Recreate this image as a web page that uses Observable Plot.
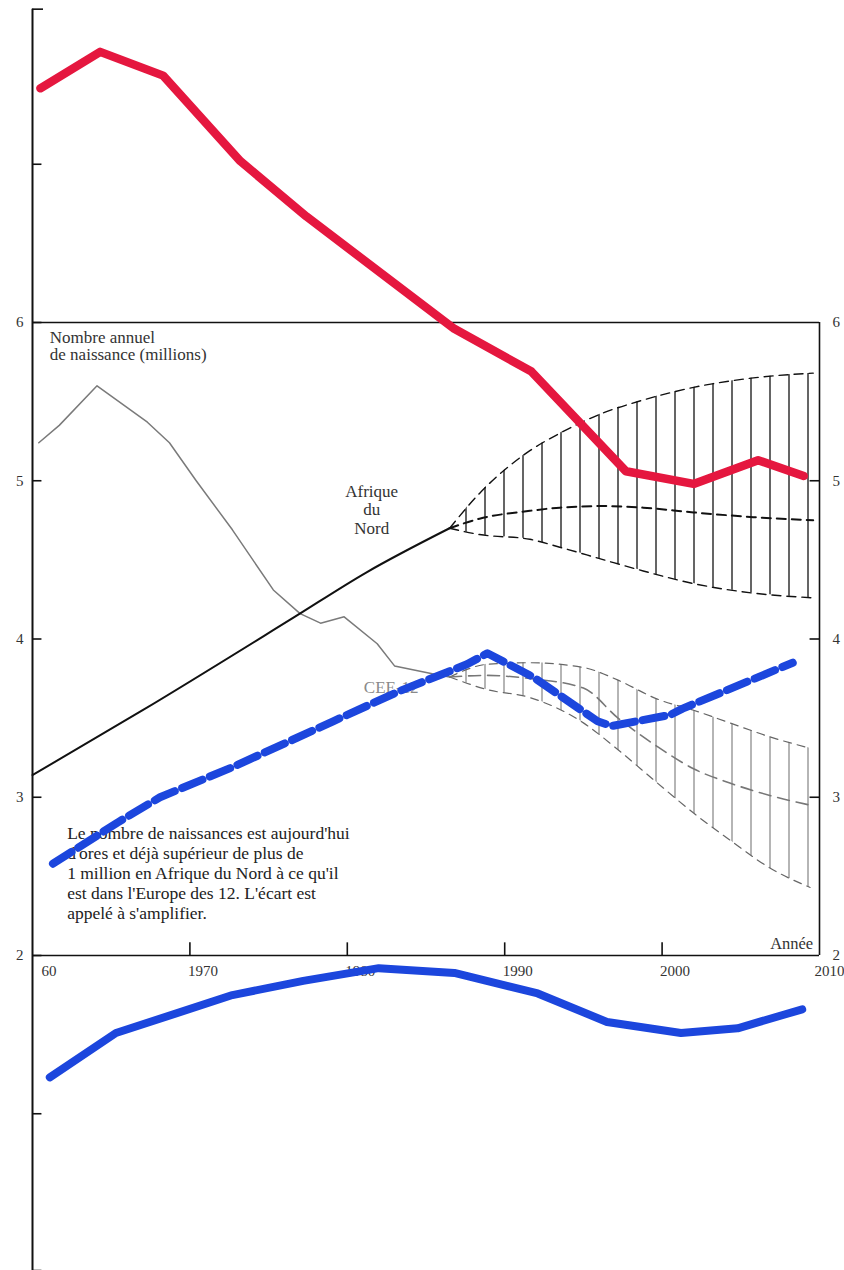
<!DOCTYPE html>
<html>
<head>
<meta charset="utf-8">
<script src="https://cdn.jsdelivr.net/npm/d3@7"></script>
<script src="https://cdn.jsdelivr.net/npm/@observablehq/plot@0.6"></script>
<style>
  html, body { margin: 0; padding: 0; background: #fff; }
  #chart svg { display: block; }
</style>
</head>
<body>
<div id="chart"></div>
<script>
// ---- Data ----
// Overlaid red series
const redYears  = [1960.5, 1964.3, 1968.3, 1973.2, 1977.4, 1986.8, 1991.7, 1997.7, 2002.0, 2006.1, 2009.0];
const redValues = [7.48, 7.71, 7.56, 7.02, 6.67, 5.96, 5.69, 5.06, 4.98, 5.13, 5.03];
// Overlaid blue solid series
const blueYears  = [1961.1, 1965.3, 1972.7, 1977.2, 1982.0, 1986.8, 1992.1, 1996.5, 2001.2, 2004.8, 2008.9];
const blueValues = [1.23, 1.51, 1.75, 1.84, 1.92, 1.89, 1.76, 1.58, 1.51, 1.54, 1.66];
// Overlaid blue dashed series
const dashYears  = [1961.3, 1965.4, 1968.1, 1972.7, 1979.1, 1983.3, 1987.6, 1988.9, 1991.8, 1995.9, 1996.8, 2000.5, 2001.3, 2008.3];
const dashValues = [2.58, 2.84, 3.00, 3.19, 3.48, 3.67, 3.84, 3.91, 3.76, 3.48, 3.45, 3.52, 3.56, 3.85];
// Afrique du Nord, observed
const afYears  = [1960, 1967.0, 1976.5, 1981.2, 1986.5];
const afValues = [3.14, 3.55, 4.13, 4.42, 4.70];
// Afrique du Nord, projection envelope
const afProjYears = [1986.5, 1988.4, 1991.6, 1993.5, 1996.3, 1998.8, 2002.0, 2005.8, 2009.6];
const afLow  = [4.70, 4.66, 4.63, 4.58, 4.50, 4.43, 4.35, 4.29, 4.26];
const afMid  = [4.70, 4.76, 4.81, 4.83, 4.84, 4.83, 4.80, 4.77, 4.75];
const afHigh = [4.70, 4.92, 5.19, 5.30, 5.43, 5.51, 5.59, 5.65, 5.68];
// CEE-12, observed
const ceeYears  = [1960.4, 1961.7, 1964.1, 1967.3, 1968.7, 1970.4, 1972.7, 1975.3, 1977.0, 1978.3, 1979.8, 1981.9, 1983.0, 1985.4, 1986.5];
const ceeValues = [5.24, 5.35, 5.60, 5.37, 5.24, 5.00, 4.69, 4.31, 4.16, 4.10, 4.14, 3.97, 3.83, 3.78, 3.76];
// CEE-12, projection envelope
const ceeProjYears = [1986.5, 1988.9, 1991.6, 1995.0, 1997.2, 1999.7, 2002.0, 2004.3, 2006.9, 2009.4];
const ceeLow  = [3.76, 3.68, 3.63, 3.47, 3.30, 3.09, 2.90, 2.73, 2.55, 2.43];
const ceeMid  = [3.76, 3.77, 3.75, 3.69, 3.50, 3.32, 3.18, 3.09, 3.01, 2.95];
const ceeHigh = [3.76, 3.84, 3.85, 3.82, 3.74, 3.62, 3.55, 3.47, 3.38, 3.31];

// Axes
const leftTicks   = [1, 2, 3, 4, 5, 6, 7];
const leftLabels  = [2, 3, 4, 5, 6];
const rightTicks  = [3, 4, 5];
const rightLabels = [2, 3, 4, 5, 6];
const xTicks      = [1970, 1980, 1990, 2000];
const xLabelYears = [1970, 1980, 1990, 2000];
const xLabelTexts = ["1970", "1980", "1990", "2000"];
const xFirstLabel = "60";
const xLastLabel  = "2010";

const titleText = "Nombre annuel\nde naissance (millions)";
const noteText = "Le nombre de naissances est aujourd'hui\nd'ores et déjà supérieur de plus de\n1 million en Afrique du Nord à ce qu'il\nest dans l'Europe des 12. L'écart est\nappelé à s'amplifier.";

// ---- Build tables ----
const zip = (xs, ys) => xs.map((x, i) => ({x, y: ys[i]}));
const red  = zip(redYears, redValues);
const blue = zip(blueYears, blueValues);
const dash = zip(dashYears, dashValues);
const af   = zip(afYears, afValues);
const cee  = zip(ceeYears, ceeValues);
const afEnv  = afProjYears.map((x, i) => ({x, low: afLow[i], mid: afMid[i], high: afHigh[i]}));
const ceeEnv = ceeProjYears.map((x, i) => ({x, low: ceeLow[i], mid: ceeMid[i], high: ceeHigh[i]}));

const serif = "'Liberation Serif', 'DejaVu Serif', serif";
const REDC = "#e5173f";
const BLUEC = "#1c46dd";

const svg = Plot.plot({
  width: 844,
  height: 1270,
  margin: 0,
  style: {background: "#fff", fontFamily: serif},
  x: {domain: [1960, 2010], range: [32, 819], axis: null},
  y: {domain: [0, 8], range: [1271.5, 5.5], axis: null},
  marks: [
    // projection hatching
    Plot.areaY(afEnv, {x: "x", y1: "low", y2: "high", fill: "url(#hatchAf)", curve: "monotone-x"}),
    Plot.areaY(ceeEnv, {x: "x", y1: "low", y2: "high", fill: "url(#hatchCee)", curve: "monotone-x"}),
    // envelopes
    Plot.lineY(afEnv, {x: "x", y: "high", stroke: "#111", strokeWidth: 1.4, strokeDasharray: "9,6", curve: "monotone-x"}),
    Plot.lineY(afEnv, {x: "x", y: "low", stroke: "#111", strokeWidth: 1.4, strokeDasharray: "9,6", curve: "monotone-x"}),
    Plot.lineY(afEnv, {x: "x", y: "mid", stroke: "#111", strokeWidth: 2, strokeDasharray: "9,6", curve: "monotone-x"}),
    Plot.lineY(ceeEnv, {x: "x", y: "high", stroke: "#666", strokeWidth: 1.2, strokeDasharray: "8,6", curve: "monotone-x"}),
    Plot.lineY(ceeEnv, {x: "x", y: "low", stroke: "#666", strokeWidth: 1.2, strokeDasharray: "8,6", curve: "monotone-x"}),
    Plot.lineY(ceeEnv, {x: "x", y: "mid", stroke: "#777", strokeWidth: 1.6, strokeDasharray: "12,7", curve: "monotone-x"}),
    // observed lines
    Plot.lineY(cee, {x: "x", y: "y", stroke: "#7a7a7a", strokeWidth: 1.5}),
    Plot.lineY(af, {x: "x", y: "y", stroke: "#111", strokeWidth: 2, curve: "monotone-x"}),
    // frame & axes
    Plot.ruleY([6, 2], {x1: 1960, x2: 2010, stroke: "#111", strokeWidth: 1.6}),
    Plot.ruleX([1960], {y1: 0, y2: 7.98, stroke: "#111", strokeWidth: 2}),
    Plot.ruleX([2010], {y1: 2, y2: 6, stroke: "#111", strokeWidth: 1.6}),
    Plot.ruleY(leftTicks, {x1: 1960, x2: 1960.6, stroke: "#111", strokeWidth: 1.6}),
    Plot.ruleY([7.98], {x1: 1960, x2: 1960.7, stroke: "#111", strokeWidth: 1.6}),
    Plot.ruleY([0.01], {x1: 1960, x2: 1960.6, stroke: "#111", strokeWidth: 1.4}),
    Plot.ruleY(rightTicks, {x1: 2009.4, x2: 2010, stroke: "#111", strokeWidth: 1.6}),
    Plot.ruleX(xTicks, {y1: 2, y2: 2.08, stroke: "#111", strokeWidth: 1.6}),
    Plot.text(leftLabels, {x: 1960, y: d => d, text: d => String(d), textAnchor: "end", dx: -9, fontSize: 15, fill: "#333"}),
    Plot.text(rightLabels, {x: 2010, y: d => d, text: d => String(d), textAnchor: "start", dx: 13, fontSize: 15, fill: "#333"}),
    Plot.text(xLabelYears, {x: d => d, y: 1.94, text: (d, i) => xLabelTexts[i], textAnchor: "start", lineAnchor: "top", dx: -2, fontSize: 15, fill: "#333"}),
    Plot.text([xFirstLabel], {x: 1960, y: 1.94, text: d => d, textAnchor: "start", lineAnchor: "top", dx: 9, fontSize: 15, fill: "#333"}),
    Plot.text([xLastLabel], {x: 2010, y: 1.94, text: d => d, textAnchor: "start", lineAnchor: "top", dx: -5, fontSize: 15, fill: "#333"}),
    // annotations
    Plot.text([titleText], {x: 1961.1, y: 5.944, text: d => d, textAnchor: "start", lineAnchor: "top", lineHeight: 1.0, fontSize: 17, fill: "#333"}),
    Plot.text(["Afrique\ndu\nNord"], {x: 1981.55, y: 4.983, text: d => d, textAnchor: "middle", lineAnchor: "top", lineHeight: 1.09, fontSize: 17, fill: "#333"}),
    Plot.text(["CEE-12"], {x: 1981.05, y: 3.738, text: d => d, textAnchor: "start", lineAnchor: "top", fontSize: 17, fill: "#8a8a8a"}),
    Plot.text([noteText], {x: 1962.2, y: 2.824, text: d => d, textAnchor: "start", lineAnchor: "top", lineHeight: 1.14, fontSize: 17.5, fill: "#222"}),
    Plot.text(["Année"], {x: 2009.6, y: 2.118, text: d => d, textAnchor: "end", lineAnchor: "top", fontSize: 16.5, fill: "#333"}),
    // overlaid colored series
    Plot.lineY(blue, {x: "x", y: "y", stroke: BLUEC, strokeWidth: 8, strokeLinejoin: "round"}),
    Plot.lineY(dash, {x: "x", y: "y", stroke: BLUEC, strokeWidth: 8, strokeDasharray: "22,8", strokeLinejoin: "round"}),
    Plot.lineY(red, {x: "x", y: "y", stroke: REDC, strokeWidth: 8.5, strokeLinejoin: "round"})
  ]
});

// Hatch patterns (vertical strokes) used by the projection areas
const defs = d3.select(svg).insert("defs", ":first-child");
function hatch(id, color, w) {
  const p = defs.append("pattern")
    .attr("id", id).attr("patternUnits", "userSpaceOnUse")
    .attr("x", 560).attr("y", 0).attr("width", 19).attr("height", 20);
  p.append("line").attr("x1", 1).attr("x2", 1).attr("y1", 0).attr("y2", 20)
    .attr("stroke", color).attr("stroke-width", w);
}
hatch("hatchAf", "#111", 1.3);
hatch("hatchCee", "#777", 1.1);

document.getElementById("chart").appendChild(svg);
</script>
</body>
</html>
